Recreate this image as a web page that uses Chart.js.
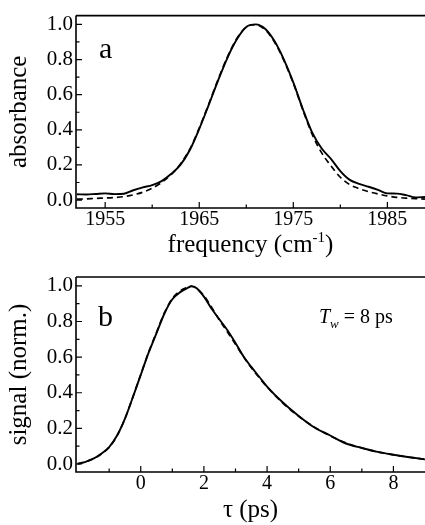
<!DOCTYPE html>
<html><head><meta charset="utf-8">
<script src="https://cdn.jsdelivr.net/npm/chart.js@4/dist/chart.umd.min.js"></script>
<style>
html,body{margin:0;padding:0;background:#fff;overflow:hidden}
#wrap{position:relative;width:425px;height:525px}
canvas{position:absolute;left:0}
#ca{top:0}
#cb{top:260px}
</style></head><body>
<div id="wrap">
<canvas id="ca" width="425" height="260"></canvas>
<canvas id="cb" width="425" height="265"></canvas>
</div>
<script>
// ---- data: panel a (absorbance vs frequency) ----
const freq = [1952,1953,1954,1955,1956,1957,1958,1959,1960,1961,1962,1963,1964,1965,1966,1967,1968,1969,1970,1971,1972,1973,1974,1975,1976,1977,1978,1979,1980,1981,1982,1983,1984,1985,1986,1987,1988,1989];
const absExp = [0.033,0.032,0.035,0.038,0.034,0.036,0.056,0.072,0.085,0.108,0.148,0.200,0.285,0.405,0.540,0.680,0.810,0.915,0.985,1.000,0.975,0.905,0.800,0.670,0.520,0.385,0.295,0.235,0.165,0.115,0.092,0.076,0.058,0.038,0.037,0.028,0.015,0.018];
const absFit = [0.005,0.007,0.010,0.012,0.015,0.020,0.030,0.045,0.068,0.100,0.145,0.205,0.290,0.410,0.545,0.685,0.815,0.920,0.985,0.998,0.970,0.900,0.795,0.665,0.515,0.375,0.270,0.195,0.130,0.088,0.065,0.048,0.035,0.024,0.016,0.011,0.008,0.006];
// ---- data: panel b (signal vs tau) ----
const tau = [-2,-1.75,-1.5,-1.25,-1,-0.75,-0.5,-0.25,0,0.25,0.5,0.75,1,1.25,1.5,1.6,1.75,2,2.25,2.5,2.75,3,3.25,3.5,3.75,4,4.5,5,5.5,6,6.5,7,7.5,8,8.5,9];
const sigExp = [0.000,0.012,0.030,0.058,0.095,0.160,0.255,0.375,0.500,0.625,0.735,0.845,0.925,0.965,0.990,0.998,0.990,0.940,0.870,0.810,0.750,0.680,0.605,0.545,0.490,0.435,0.345,0.270,0.205,0.160,0.115,0.090,0.068,0.052,0.038,0.026];
const sigFit = [0.002,0.013,0.030,0.056,0.094,0.158,0.254,0.376,0.502,0.628,0.740,0.848,0.930,0.972,0.993,0.998,0.988,0.945,0.878,0.805,0.740,0.672,0.603,0.540,0.485,0.432,0.342,0.268,0.207,0.158,0.118,0.090,0.068,0.051,0.038,0.027];
// ---- ticks ----
const freqTicks = [1955,1965,1975,1985];
const freqMinor = [1960,1970,1980];
const tauTicks = [0,2,4,6,8];
const tauMinor = [-1,1,3,5,7];
const yTicks = [0,0.2,0.4,0.6,0.8,1.0];
const yMinor = [0.1,0.3,0.5,0.7,0.9];

const SERIF = '"Liberation Serif", "Times New Roman", serif';

const framePlugin = {
  id: 'frame',
  afterDatasetsDraw(chart, args, o) {
    const {ctx, chartArea: a, scales: {x, y}} = chart;
    ctx.save();
    ctx.strokeStyle = '#000';
    ctx.lineWidth = 1.6;
    ctx.beginPath();
    ctx.moveTo(a.left, a.top); ctx.lineTo(a.right + 2, a.top);
    ctx.moveTo(a.left, a.top); ctx.lineTo(a.left, a.bottom); ctx.lineTo(a.right + 2, a.bottom);
    ctx.stroke();
    ctx.lineWidth = 1.2;
    ctx.beginPath();
    o.xMajor.forEach(v => { const p = x.getPixelForValue(v); ctx.moveTo(p, a.bottom); ctx.lineTo(p, a.bottom - 6); });
    o.xMinor.forEach(v => { const p = x.getPixelForValue(v); ctx.moveTo(p, a.bottom); ctx.lineTo(p, a.bottom - 3.5); });
    o.yMajor.forEach(v => { const p = y.getPixelForValue(v); ctx.moveTo(a.left, p); ctx.lineTo(a.left + 6, p); });
    o.yMinor.forEach(v => { const p = y.getPixelForValue(v); ctx.moveTo(a.left, p); ctx.lineTo(a.left + 3.5, p); });
    ctx.stroke();
    ctx.restore();
  },
  afterDraw(chart, args, o) {
    const ctx = chart.ctx;
    ctx.save();
    ctx.fillStyle = '#000';
    ctx.textBaseline = 'alphabetic';
    ctx.textAlign = 'left';
    ctx.font = '30px ' + SERIF;
    ctx.fillText(o.letter, o.letterX, o.letterY);
    if (o.freqTitle) {
      const big = '25px ' + SERIF, small = '15px ' + SERIF;
      const t1 = 'frequency (cm', s = '-1', t2 = ')';
      ctx.font = big; const w1 = ctx.measureText(t1).width, w2 = ctx.measureText(t2).width;
      ctx.font = small; const ws = ctx.measureText(s).width;
      const a = chart.chartArea;
      let x0 = (a.left + a.right) / 2 - (w1 + ws + w2) / 2;
      const by = o.freqTitleY;
      ctx.font = big; ctx.fillText(t1, x0, by); x0 += w1;
      ctx.font = small; ctx.fillText(s, x0, by - 10); x0 += ws;
      ctx.font = big; ctx.fillText(t2, x0, by);
    }
    if (o.tw) {
      let x0 = 319; const by = 63;
      ctx.font = 'italic 20px ' + SERIF; ctx.fillText('T', x0, by); x0 += ctx.measureText('T').width;
      ctx.font = 'italic 13px ' + SERIF; ctx.fillText('w', x0, by + 5); x0 += ctx.measureText('w').width;
      ctx.font = '20px ' + SERIF; ctx.fillText(' = 8 ps', x0, by);
    }
    ctx.restore();
  }
};

function panel(id, xs, exp, fit, xmin, xmax, xMaj, xMin, yTitle, xTitle, xH, topPad, extra) {
  const pts = arr => xs.map((v, i) => ({x: v, y: arr[i]}));
  return new Chart(document.getElementById(id), {
    type: 'line',
    data: { datasets: [
      { data: pts(fit), borderColor: '#000', borderWidth: 1.7, borderDash: [6, 4], pointRadius: 0, cubicInterpolationMode: 'monotone', fill: false },
      { data: pts(exp), borderColor: '#000', borderWidth: 1.9, pointRadius: 0, cubicInterpolationMode: 'monotone', fill: false }
    ]},
    options: {
      responsive: false, animation: false, devicePixelRatio: 1,
      layout: { padding: { top: topPad, right: 0, left: 0, bottom: 0 } },
      plugins: { legend: { display: false }, tooltip: { enabled: false },
        frame: Object.assign({ xMajor: xMaj, xMinor: xMin, yMajor: yTicks, yMinor: yMinor }, extra) },
      scales: {
        x: { type: 'linear', min: xmin, max: xmax,
          afterBuildTicks: s => { s.ticks = xMaj.map(v => ({value: v})); },
          afterFit: s => { s.height = xH; },
          grid: { display: false, drawTicks: false }, border: { display: false },
          ticks: { color: '#000', font: { family: SERIF, size: 20 }, padding: 0, maxRotation: 0, autoSkip: false, callback: v => String(v) },
          title: { display: !!xTitle, text: xTitle || '', color: '#000', font: { family: SERIF, size: 25 }, padding: { top: 0, bottom: 0 } } },
        y: { min: -0.045, max: 1.05,
          afterBuildTicks: s => { s.ticks = yTicks.map(v => ({value: v})); },
          afterFit: s => { s.width = 76; },
          grid: { display: false, drawTicks: false }, border: { display: false },
          ticks: { color: '#000', font: { family: SERIF, size: 21 }, padding: 3, callback: v => v.toFixed(1) },
          title: { display: true, text: yTitle, color: '#000', font: { family: SERIF, size: 25 }, padding: { top: 4, bottom: 0 } } }
      }
    },
    plugins: [framePlugin]
  });
}

panel('ca', freq, absExp, absFit, 1951.9, 1989, freqTicks, freqMinor, 'absorbance', null, 52, 14,
  { letter: 'a', letterX: 99, letterY: 58, freqTitle: true, freqTitleY: 252 });
panel('cb', tau, sigExp, sigFit, -2.05, 9, tauTicks, tauMinor, 'signal (norm.)', 'τ (ps)', 53, 17,
  { letter: 'b', letterX: 98, letterY: 66, tw: true });
</script>
</body></html>
